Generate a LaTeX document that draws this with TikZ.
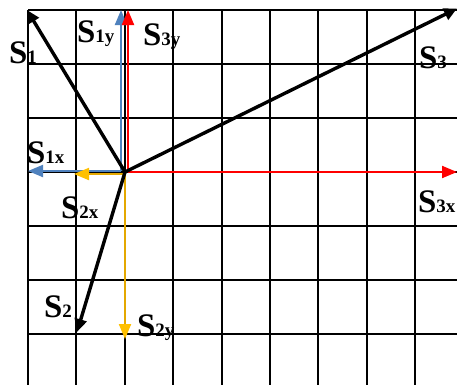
\documentclass[tikz,border=0pt]{standalone}
\usepackage{fontspec}
\setmainfont{Liberation Serif}
\usetikzlibrary{arrows.meta}
\definecolor{vblue}{RGB}{79,129,189}
\definecolor{vred}{RGB}{255,0,0}
\definecolor{vyel}{RGB}{255,192,0}
\definecolor{vyelline}{RGB}{228,168,0}
\newcommand{\vlab}[1]{{\fontsize{33}{33}\selectfont S}{\fontsize{19}{19}\selectfont #1}}
\begin{document}
\begin{tikzpicture}[x=1bp,y=-1bp,
  gridline/.style={line width=2bp, black},
  vec/.style={line width=3.4bp, black, -{Triangle[length=13bp,width=12bp]}},
  comp/.style={line width=2bp, -{Triangle[length=15bp,width=12bp]}},
  lab/.style={anchor=base west, inner sep=0pt, font=\bfseries}]
\useasboundingbox (0,0) rectangle (457,385);
\fill[white] (0,0) rectangle (457,385);
% grid
\foreach \i in {0,...,8} \draw[gridline] ({28+48.375*\i},10) -- ({28+48.375*\i},385);
\foreach \j in {0,...,6} \draw[gridline] (28,{10+54*\j}) -- (457,{10+54*\j});
% points
\coordinate (O) at (125,172);
\coordinate (Ob) at (121,171);
\coordinate (Or) at (128,172);
\coordinate (Oy) at (125,174);
\coordinate (P1x) at (28,171);
\coordinate (P1y) at (121,10);
\coordinate (P3x) at (457,172);
\coordinate (P3y) at (128,10);
\coordinate (P2x) at (74,174);
\coordinate (P2y) at (125,339);
\coordinate (P1) at (27,10);
\coordinate (P2) at (77,332);
\coordinate (P3) at (457,8.5);
% components
\draw[comp, vblue] (Ob) -- (P1x);
\draw[comp, vblue] (Ob) -- (P1y);
\draw[comp, vred] (Or) -- (P3x);
\draw[comp, vred] (Or) -- (P3y);
\draw[comp, vyelline, -{Triangle[length=15bp,width=12bp,color=vyel]}] (Oy) -- (P2x);
\draw[comp, vyelline, -{Triangle[length=15bp,width=12bp,color=vyel]}] (Oy) -- (P2y);
% vectors
\draw[vec] (O) -- (P1);
\draw[vec] (O) -- (P2);
\draw[vec] (O) -- (P3);
% labels
\node[lab] (L1) at (9,63) {\vlab{1}};
\node[lab] (L1y) at (77,42) {\vlab{1y}};
\node[lab] (L3y) at (143,45) {\vlab{3y}};
\node[lab] (L1x) at (27,163) {\vlab{1x}};
\node[lab] (L2x) at (61,218) {\vlab{2x}};
\node[lab] (L2) at (44,317) {\vlab{2}};
\node[lab] (L2y) at (137,336) {\vlab{2y}};
\node[lab] (L3) at (419,68) {\vlab{3}};
\node[lab] (L3x) at (418,212) {\vlab{3x}};
\end{tikzpicture}
\end{document}
